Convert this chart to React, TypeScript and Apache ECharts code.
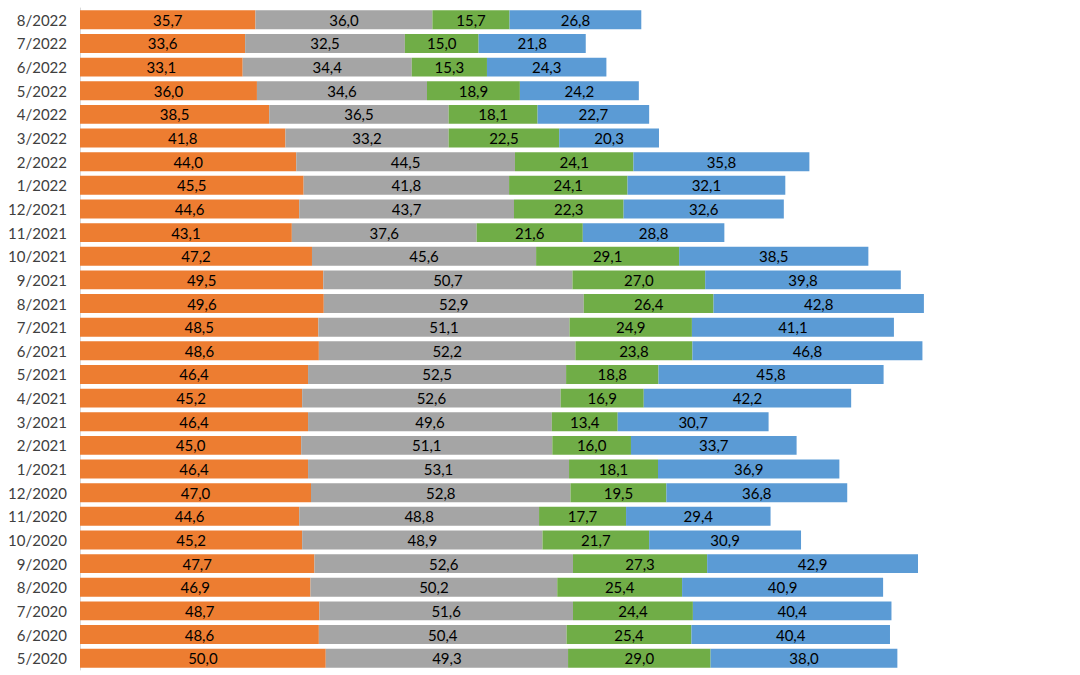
import React, { useEffect, useRef } from "react";
import * as echarts from "echarts";

const categories = [
  "5/2020", "6/2020", "7/2020", "8/2020", "9/2020", "10/2020", "11/2020", "12/2020",
  "1/2021", "2/2021", "3/2021", "4/2021", "5/2021", "6/2021", "7/2021", "8/2021",
  "9/2021", "10/2021", "11/2021", "12/2021", "1/2022", "2/2022", "3/2022", "4/2022",
  "5/2022", "6/2022", "7/2022", "8/2022",
];

const orangeValues = [
  50.0, 48.6, 48.7, 46.9, 47.7, 45.2, 44.6, 47.0, 46.4, 45.0, 46.4, 45.2, 46.4, 48.6,
  48.5, 49.6, 49.5, 47.2, 43.1, 44.6, 45.5, 44.0, 41.8, 38.5, 36.0, 33.1, 33.6, 35.7,
];
const grayValues = [
  49.3, 50.4, 51.6, 50.2, 52.6, 48.9, 48.8, 52.8, 53.1, 51.1, 49.6, 52.6, 52.5, 52.2,
  51.1, 52.9, 50.7, 45.6, 37.6, 43.7, 41.8, 44.5, 33.2, 36.5, 34.6, 34.4, 32.5, 36.0,
];
const greenValues = [
  29.0, 25.4, 24.4, 25.4, 27.3, 21.7, 17.7, 19.5, 18.1, 16.0, 13.4, 16.9, 18.8, 23.8,
  24.9, 26.4, 27.0, 29.1, 21.6, 22.3, 24.1, 24.1, 22.5, 18.1, 18.9, 15.3, 15.0, 15.7,
];
const blueValues = [
  38.0, 40.4, 40.4, 40.9, 42.9, 30.9, 29.4, 36.8, 36.9, 33.7, 30.7, 42.2, 45.8, 46.8,
  41.1, 42.8, 39.8, 38.5, 28.8, 32.6, 32.1, 35.8, 20.3, 22.7, 24.2, 24.3, 21.8, 26.8,
];

const seriesDefs = [
  { name: "Orange", color: "#ED7D31", values: orangeValues },
  { name: "Gray", color: "#A5A5A5", values: grayValues },
  { name: "Green", color: "#70AD47", values: greenValues },
  { name: "Blue", color: "#5B9BD5", values: blueValues },
];

const FONT = "Lato, 'Open Sans', sans-serif";

export default function App() {
  const ref = useRef<HTMLDivElement | null>(null);

  useEffect(() => {
    document.body.style.margin = "0";
    if (!ref.current) return;
    const chart = echarts.init(ref.current, null, { renderer: "svg" });
    chart.setOption({
      animation: false,
      backgroundColor: "#ffffff",
      grid: { left: 80, right: 17, top: 8, bottom: 5, containLabel: false },
      xAxis: {
        type: "value",
        min: 0,
        max: 200,
        show: false,
        splitLine: { show: false },
      },
      yAxis: {
        type: "category",
        data: categories,
        axisLine: { show: true, lineStyle: { color: "#D9D9D9", width: 1 } },
        axisTick: { show: false },
        axisLabel: {
          color: "#404040",
          fontFamily: FONT,
          fontSize: 15,
          margin: 13,
        },
      },
      series: seriesDefs.map((s) => ({
        name: s.name,
        type: "bar",
        stack: "total",
        barCategoryGap: "20%",
        itemStyle: { color: s.color },
        label: {
          show: true,
          position: "inside",
          color: "#000000",
          fontFamily: FONT,
          fontSize: 15,
          formatter: (p: any) => Number(p.value).toFixed(1).replace(".", ","),
        },
        data: s.values,
      })),
    });
    return () => chart.dispose();
  }, []);

  return <div ref={ref} style={{ width: 1080, height: 675 }} />;
}
